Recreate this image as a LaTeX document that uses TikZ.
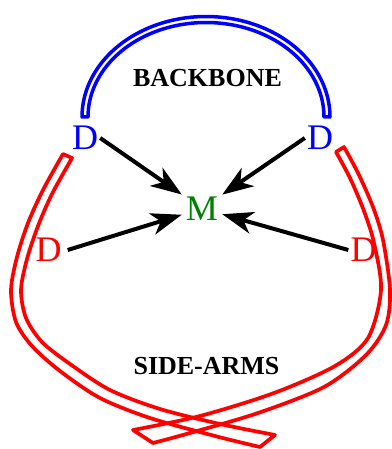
\documentclass[tikz,border=0pt]{standalone}
\usepackage{fontspec}
\setmainfont{Liberation Serif}
\usetikzlibrary{arrows.meta}
\definecolor{mgreen}{RGB}{0,128,0}
\begin{document}
\begin{tikzpicture}[x=1pt,y=-1pt,
  bandred/.style={draw=red, line width=3.7pt, line join=round},
  bandblue/.style={draw=blue, line width=3.5pt, line join=round},
  dlab/.style={font=\fontsize{36}{36}\selectfont, inner sep=2pt},
  lab/.style={font=\bfseries\fontsize{26}{26}\selectfont},
  arr/.style={line width=4pt, -{Stealth[length=31pt,width=22pt,inset=9pt]}},
]
\useasboundingbox (0,0) rectangle (391,449);
% backbone
\draw[bandblue] plot[domain=180:360,samples=90] ({206+124*cos(\x)},{117+100.5*sin(\x)})
  -- plot[domain=360:180,samples=90] ({206+118*cos(\x)},{117+94.5*sin(\x)}) -- cycle;
% side arms
\draw[bandred] plot[smooth] coordinates {(63,154) (43,190) (28,223) (17,257) (11,290) (16,322) (32,346) (60,371) (100,398) (150,418) (215,436) (260,447)}
  -- plot[smooth] coordinates {(275,435) (220,424) (160,409) (110,390) (70,364) (42,342) (26,318) (21,290) (27,259) (38,226) (52,194) (72,158)} -- cycle;
\draw[bandred] plot[smooth] coordinates {(344,147) (358,173) (373,207) (383,240) (390,290) (386,325) (366,355) (324,387) (258,413) (190,433) (153,443)}
  -- plot[smooth] coordinates {(133,430) (200,416) (274,393) (335,366) (368,338) (381,290) (374,243) (364,211) (350,178) (336,152)} -- cycle;
% labels
\node[dlab, text=blue] (dbl) at (85,138) {D};
\node[dlab, text=blue] (dbr) at (320,138) {D};
\node[dlab, text=red] (drl) at (48.5,250) {D};
\node[dlab, text=red] (drr) at (363.5,250) {D};
\node[font=\fontsize{36}{36}\selectfont, text=mgreen, minimum width=40pt, minimum height=30pt, inner sep=0pt] (m) at (202,208.5) {M};
\node[lab] (bb) at (207.5,78) {BACKBONE};
\node[lab] (sa) at (206.5,366) {SIDE-ARMS};
% arrows
\draw[arr] (dbl.east) -- (m);
\draw[arr] (dbr.west) -- (m);
\draw[arr] ([xshift=4pt]drl.east) -- (m);
\draw[arr] (drr.west) -- (m);
\end{tikzpicture}
\end{document}
